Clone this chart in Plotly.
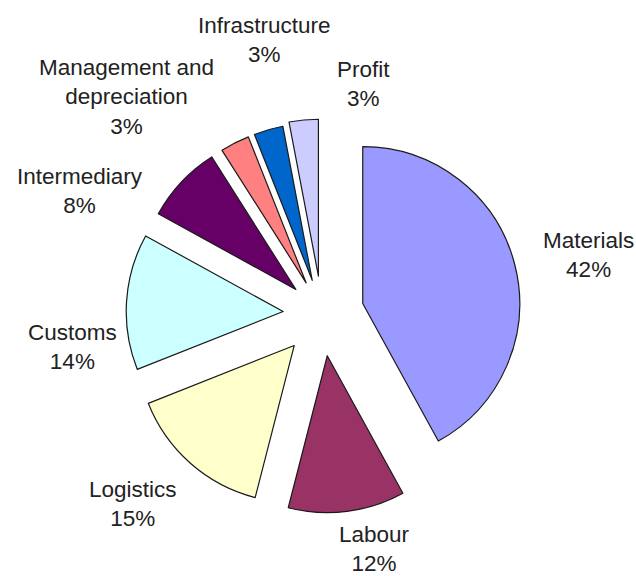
import plotly.graph_objects as go

# Cost breakdown, percent of total
categories = ["Materials", "Labour", "Logistics", "Customs", "Intermediary",
              "Management and<br>depreciation", "Infrastructure", "Profit"]
shares = [42, 12, 15, 14, 8, 3, 3, 3]

# Excel-style default pie fills
colors = ["#9999FF", "#993366", "#FFFFCC", "#CCFFFF", "#660066",
          "#FF8080", "#0066CC", "#CCCCFF"]

# how far each slice is pulled out, as a fraction of the radius
pulls = [0.268, 0.268, 0.268, 0.248, 0.229, 0.223, 0.223, 0.242]

W, H = 636, 576
# label block centres in pixels (x from left, y from top)
label_pos = [(588, 255), (374, 549), (133, 504), (72, 347), (80, 191),
             (126, 97), (264, 40), (363, 84)]

# pie geometry in pixels: centre and half-size of the domain box
cx, cy, half = 322, 314, 199

fig = go.Figure(go.Pie(
    labels=categories,
    values=shares,
    sort=False,
    direction="clockwise",
    rotation=0,
    pull=pulls,
    marker=dict(colors=colors, line=dict(color="#1a1a1a", width=1.2)),
    textinfo="none",
    hoverinfo="skip",
    showlegend=False,
    domain=dict(x=[(cx - half) / W, (cx + half) / W],
                y=[1 - (cy + half) / H, 1 - (cy - half) / H]),
))

annotations = []
for name, v, (px, py) in zip(categories, shares, label_pos):
    annotations.append(dict(
        text=f"{name}<br>{v}%",
        x=px / W, y=1 - py / H, xref="paper", yref="paper",
        xanchor="center", yanchor="middle", showarrow=False,
        align="center",
        font=dict(family="Liberation Sans, Arial, sans-serif", size=22.5, color="#222222"),
    ))

fig.update_layout(
    width=W, height=H,
    margin=dict(l=0, r=0, t=0, b=0),
    paper_bgcolor="white",
    plot_bgcolor="white",
    annotations=annotations,
)

fig.write_html("out.html")
